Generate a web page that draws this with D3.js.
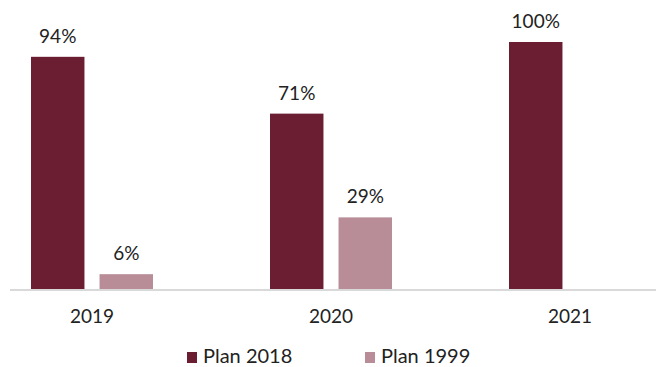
<!DOCTYPE html>
<html>
<head>
<meta charset="utf-8">
<script src="https://cdn.jsdelivr.net/npm/d3@7"></script>
<style>
  body { margin: 0; background: #fff; }
  text { font-family: Lato, "Open Sans", sans-serif; fill: #222; }
</style>
</head>
<body>
<div id="chart"></div>
<script>
// categories and series
const years = ["2019", "2020", "2021"];
const seriesNames = ["Plan 2018", "Plan 1999"];
const plan2018 = [94, 71, 100];
const plan1999 = [6, 29, null];
const colors = ["#6b1d32", "#b98d98"];

const width = 656, height = 367;
const svg = d3.select("#chart").append("svg")
  .attr("width", width)
  .attr("height", height);

// group scale, so that the centres land on 92 / 331 / 570
const x = d3.scaleBand()
  .domain(years)
  .range([-27.5, 689.5])
  .padding(0);

// bars inside each group
const xInner = d3.scaleBand()
  .domain(seriesNames)
  .range([-61, 61])
  .paddingInner(0.22);

const y = d3.scaleLinear()
  .domain([0, 100])
  .range([289, 42]);

const rows = years.map((yr, i) => ({
  year: yr,
  values: [plan2018[i], plan1999[i]]
}));

const groups = svg.selectAll("g.year")
  .data(rows)
  .join("g")
    .attr("class", "year")
    .attr("transform", d => `translate(${x(d.year) + x.bandwidth() / 2},0)`);

const bars = groups.selectAll("g.bar")
  .data(d => d.values.map((v, j) => ({ name: seriesNames[j], value: v, j })).filter(d => d.value != null))
  .join("g")
    .attr("class", "bar");

bars.append("rect")
  .attr("x", d => xInner(d.name))
  .attr("width", xInner.bandwidth())
  .attr("y", d => y(d.value))
  .attr("height", d => y(0) - y(d.value))
  .attr("fill", d => colors[d.j]);

bars.append("text")
  .attr("x", d => xInner(d.name) + xInner.bandwidth() / 2)
  .attr("y", d => y(d.value) - 14)
  .attr("text-anchor", "middle")
  .attr("font-size", 19)
  .text(d => d.value + "%");

// baseline
svg.append("line")
  .attr("x1", 10).attr("x2", width)
  .attr("y1", y(0) + 1).attr("y2", y(0) + 1)
  .attr("stroke", "#d9d9d9")
  .attr("stroke-width", 2);

// year labels
svg.selectAll("text.year")
  .data(years)
  .join("text")
    .attr("class", "year")
    .attr("x", d => x(d) + x.bandwidth() / 2)
    .attr("y", 323)
    .attr("text-anchor", "middle")
    .attr("font-size", 19)
    .text(d => d);

// legend
const legendX = [187, 365];
const legend = svg.selectAll("g.legend")
  .data(seriesNames)
  .join("g")
    .attr("class", "legend")
    .attr("transform", (d, i) => `translate(${legendX[i]},352)`);

legend.append("rect")
  .attr("width", 10)
  .attr("height", 11)
  .attr("fill", (d, i) => colors[i]);

legend.append("text")
  .attr("x", 16)
  .attr("y", 11)
  .attr("font-size", 20)
  .text(d => d);
</script>
</body>
</html>
